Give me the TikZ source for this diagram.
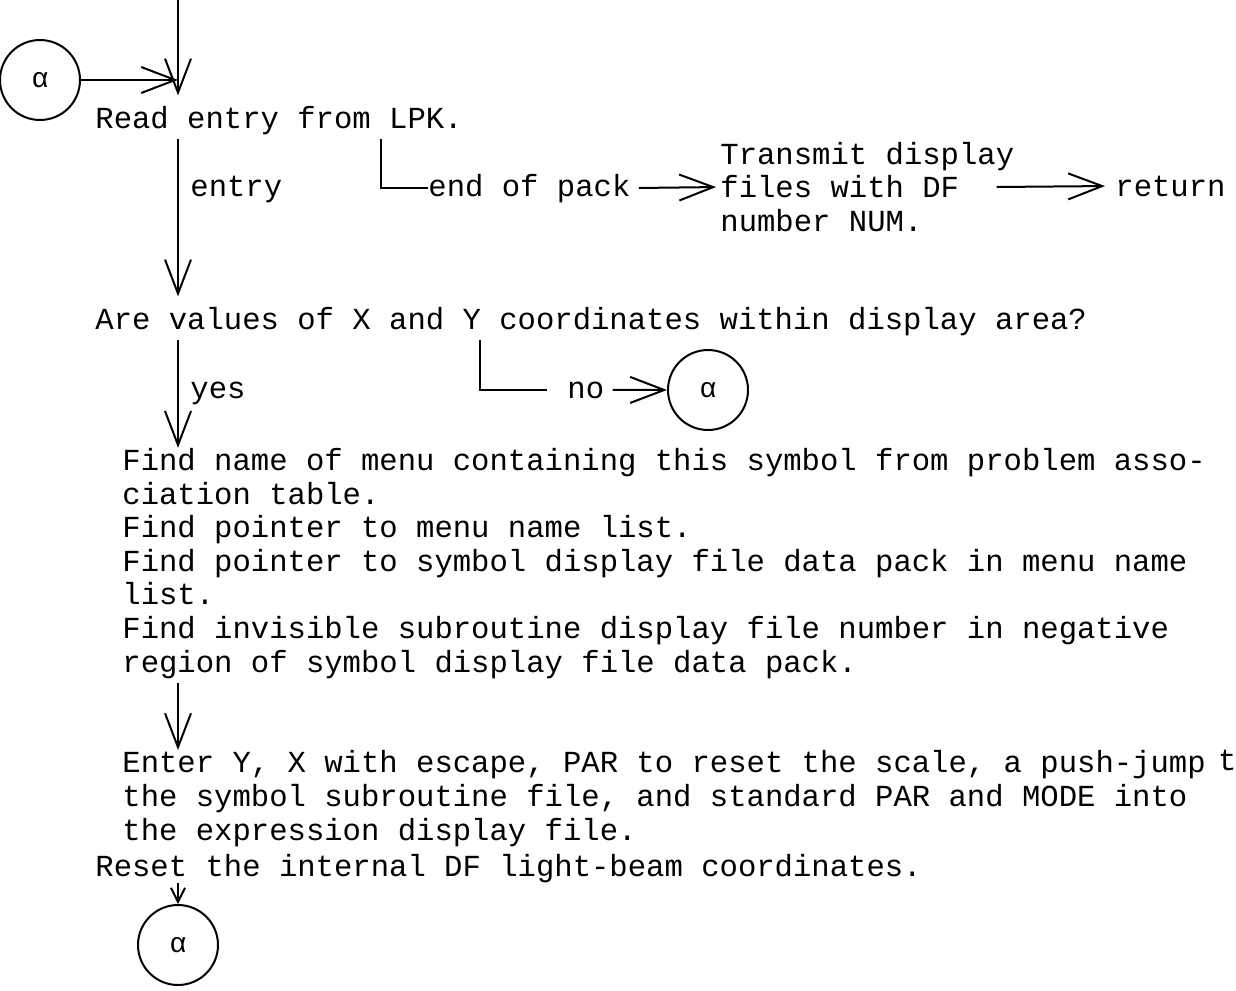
\documentclass[tikz,border=0pt]{standalone}
\usepackage{fontspec}
\usetikzlibrary{arrows.meta}
\newfontfamily\typew{Liberation Mono}

\tikzset{
  txt/.style={anchor=base west, inner sep=0pt, align=left,
    font=\typew\fontsize{15.3}{16.8}\selectfont},
  conn/.style={draw, circle, line width=1pt, minimum size=40pt, inner sep=0pt,
    font=\typew\fontsize{14}{14}\selectfont},
  arr/.style={line width=1pt, -{Straight Barb[length=17pt,width=13pt]}},
  shortarr/.style={line width=1pt, -{Straight Barb[length=7pt,width=7pt]}},
  ln/.style={line width=1pt}
}

\begin{document}
\begin{tikzpicture}[x=0.5pt, y=-0.5pt]
\useasboundingbox (0,0) rectangle (1236,990);

% Main spine of the chart
\coordinate (spine) at (178,0);
\coordinate (ybranch) at (480,0);
\coordinate (ebranch) at (381,0);

% Entry connector
\node[conn] (a1) at (40,80) {α};

% Text blocks (base of a block is its last line)
\node[txt] (read) at (95,128) {Read entry from LPK.};
\node[txt] (entry) at (190,196) {entry};
\node[txt] (eop) at (428,196) {end of pack};
\node[txt, anchor=west] (xmit) at (720,187) {Transmit display\\files with DF\\number NUM.};
\node[txt] (ret) at (1115,196) {return};

\node[txt] (area) at (95,329) {Are values of X and Y coordinates within display area?};
\node[txt] (yes) at (190,398) {yes};
\node[txt] (no) at (567,398) {no};
\node[conn] (a2) at (708,390) {α};

\node[txt] (find) at (122,672) {Find name of menu containing this symbol from problem asso-\\
ciation table.\\
Find pointer to menu name list.\\
Find pointer to symbol display file data pack in menu name\\
list.\\
Find invisible subroutine display file number in negative\\
region of symbol display file data pack.};

\node[txt] (enter) at (122,840) {Enter Y, X with escape, PAR to reset the scale, a push-jump\hspace{-3pt} \raisebox{1pt}{t}\\
the symbol subroutine file, and standard PAR and MODE into\\
the expression display file.};
\node[txt] (reset) at (95,876) {Reset the internal DF light-beam coordinates.};

% Exit connector
\node[conn] (a3) at (178,945) {α};

% Connectors
\draw[arr] (a1) -- (a1 -| spine);
\draw[arr, shorten >=5pt] (spine) -- (read.north -| spine);
\draw[arr, shorten <=2pt, shorten >=5pt] (read.south -| spine) -- (area.north -| spine);
\draw[ln, shorten <=2pt] (read.south -| ebranch) |- (eop.west);
\draw[arr, shorten <=4pt, shorten >=2pt] (eop.east) -- (xmit.west);
\draw[arr, shorten >=5pt] ([xshift=-9pt]xmit.east) -- (ret.west);

\draw[arr, shorten <=2pt] (area.south -| spine) -- (find.north -| spine);
\draw[ln, shorten <=2pt] (area.south -| ybranch) |- ([xshift=-10pt]no.west);
\draw[arr, shorten <=4pt] (no.east) -- (a2.west);

\draw[arr, shorten <=2pt] (find.south -| spine) -- (enter.north -| spine);
\draw[shortarr] (reset.south -| spine) -- (a3.north);

\end{tikzpicture}
\end{document}
